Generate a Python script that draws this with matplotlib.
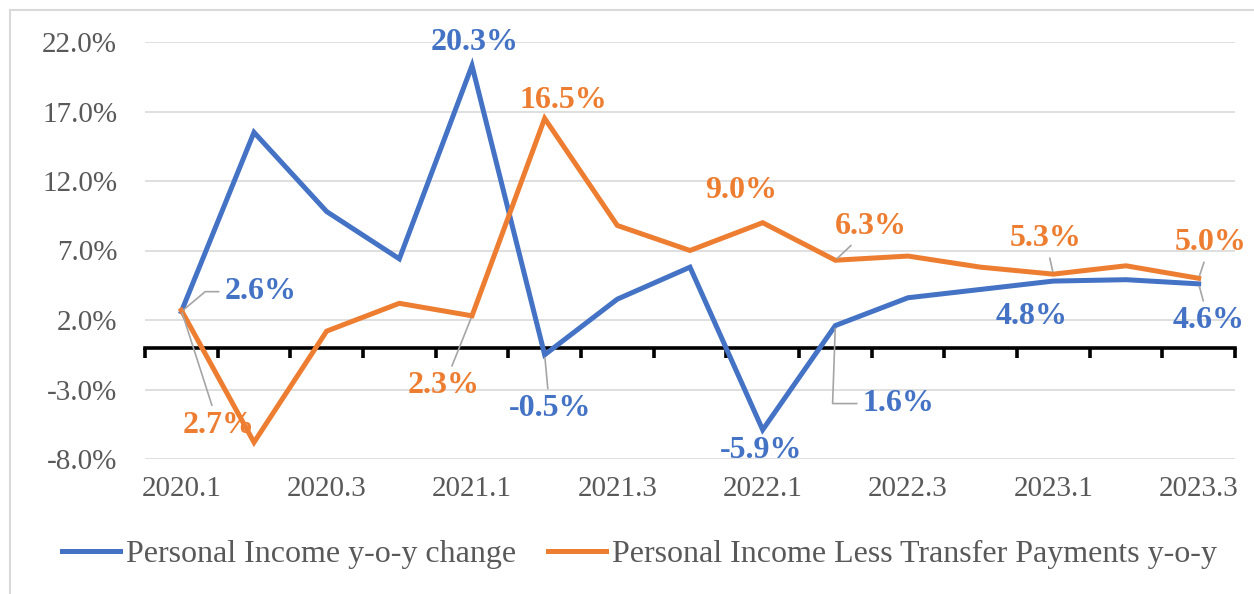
import matplotlib
matplotlib.use("Agg")
import matplotlib.pyplot as plt
from matplotlib.lines import Line2D
import numpy as np

plt.rcParams['font.family'] = ['Liberation Serif', 'DejaVu Serif']

quarters = ["2020.1", "2020.2", "2020.3", "2020.4", "2021.1", "2021.2", "2021.3", "2021.4",
            "2022.1", "2022.2", "2022.3", "2022.4", "2023.1", "2023.2", "2023.3"]
personal_income = [2.6, 15.5, 9.8, 6.4, 20.3, -0.5, 3.5, 5.8, -5.9, 1.6, 3.6, 4.2, 4.8, 4.9, 4.6]
less_transfer = [2.7, -6.8, 1.2, 3.2, 2.3, 16.5, 8.8, 7.0, 9.0, 6.3, 6.6, 5.8, 5.3, 5.9, 5.0]

# which points get a label: index -> (dx, dy offset in pixels, leader style or None)
blue_labels = {0: (79, 20, "angle,angleA=0,angleB=40,rad=0"), 4: (3, 23, None),
               5: (5, -54, "arc3"), 8: (-2, -21, None),
               9: (63, -78, "angle,angleA=0,angleB=88,rad=0"), 12: (-22, -35, None),
               14: (10, -37, "arc3")}
orange_labels = {0: (37, -115, "arc3"), 4: (-28, -70, "arc3"), 5: (19, 18, None), 8: (-22, 32, None),
                 9: (36, 34, "arc3"), 12: (-8, 36, "arc3"), 14: (12, 36, "arc3")}

blue = "#4472C4"
orange = "#ED7D31"
grey_text = "#595959"

fig = plt.figure(figsize=(12.54, 5.94), dpi=100)
ax = fig.add_axes([145 / 1254, 1 - 459 / 594, 1090 / 1254, 417 / 594])

x = np.arange(len(quarters))
ax.plot(x, personal_income, color=blue, lw=3.6, solid_joinstyle='miter', label="Personal Income y-o-y change", zorder=3)
ax.plot(x, less_transfer, color=orange, lw=3.6, solid_joinstyle='miter',
        label="Personal Income Less Transfer Payments y-o-y", zorder=3)

ax.set_xlim(-0.5, len(quarters) - 0.5)
ax.set_ylim(-8, 22)
ax.set_yticks(np.arange(-8, 23, 5))
ax.set_yticklabels([f"{v:.1f}%" for v in np.arange(-8, 23, 5)])
ax.grid(axis='y', color='#D9D9D9', lw=1.2)
ax.set_axisbelow(True)
for s in ax.spines.values():
    s.set_visible(False)

ax.set_xticks(x[::2])
ax.set_xticklabels(quarters[::2])
ax.tick_params(axis='both', length=0, labelsize=21, labelcolor=grey_text)
ax.tick_params(axis='y', pad=20)
ax.tick_params(axis='x', pad=12)

# zero axis with tick marks between categories
sec = ax.secondary_xaxis(8 / 30)
sec.spines['bottom'].set_linewidth(2.6)
sec.spines['bottom'].set_color('black')
sec.set_xticks(np.arange(-0.5, len(quarters), 1))
sec.set_xticklabels([])
sec.tick_params(direction='out', length=7, width=2.6, color='black')


def add_labels(values, labels, color):
    for i, (dx, dy, leader) in labels.items():
        props = None
        if leader:
            props = dict(arrowstyle='-', color='#A5A5A5', lw=1.2, shrinkA=2, shrinkB=2,
                         connectionstyle=leader)
        ax.annotate(f"{values[i]:.1f}%", xy=(x[i], values[i]), xytext=(dx, dy),
                    textcoords='offset pixels', ha='center', va='center',
                    fontsize=23, fontweight='bold', color=color, arrowprops=props, zorder=4)


add_labels(personal_income, blue_labels, blue)
add_labels(less_transfer, orange_labels, orange)

fig.legend(loc='center', bbox_to_anchor=(0.51, 1 - 554 / 594), ncol=2, frameon=False,
           fontsize=23, labelcolor=grey_text, handlelength=1.8, handletextpad=0.2,
           columnspacing=1.0)

# chart border
fig.add_artist(Line2D([10 / 1254, 10 / 1254], [0, 1 - 10 / 594], color='#D9D9D9', lw=1.5))
fig.add_artist(Line2D([10 / 1254, 1], [1 - 10 / 594, 1 - 10 / 594], color='#D9D9D9', lw=1.5))

fig.savefig("out.png", dpi=100)
